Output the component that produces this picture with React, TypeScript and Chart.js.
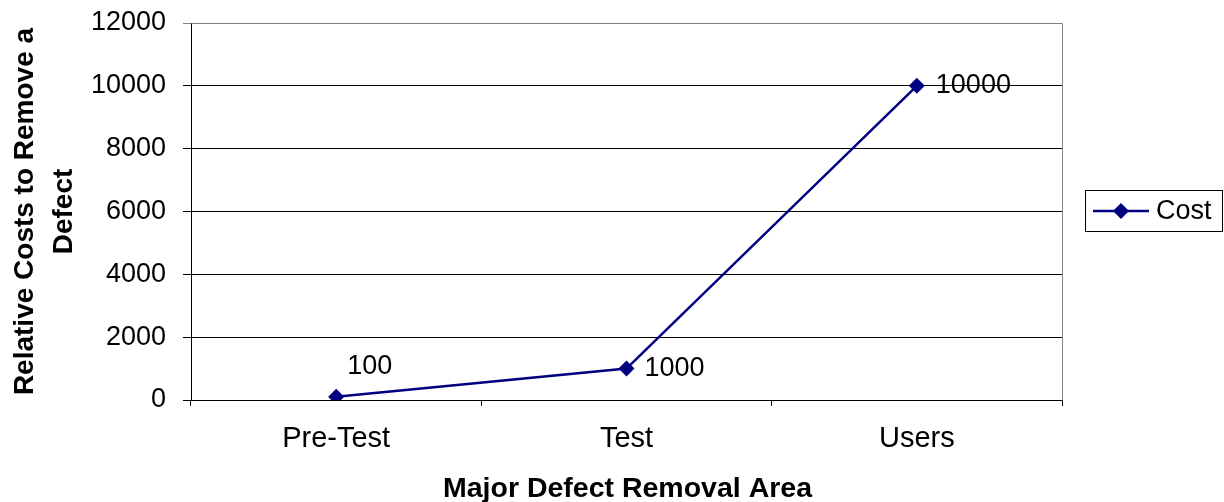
import React, { useEffect, useRef } from "react";
import { Chart, registerables } from "chart.js";

Chart.register(...registerables);

const categories = ["Pre-Test", "Test", "Users"];
const costValues = [100, 1000, 10000];
const seriesName = "Cost";
const yTitleLines = ["Relative Costs to Remove a", "Defect"];
const xTitle = "Major Defect Removal Area";
const yMin = 0;
const yMax = 12000;
const yStep = 2000;

const NAVY = "#000080";
const FONT = "'Liberation Sans', Arial, sans-serif";

export default function App() {
  const ref = useRef<HTMLCanvasElement | null>(null);

  useEffect(() => {
    document.body.style.margin = "0";
    const canvas = ref.current;
    if (!canvas) return;

    const labelOffsets = [
      { dx: 11, dy: -30 },
      { dx: 18, dy: 0 },
      { dx: 19, dy: 0 },
    ];

    const decor = {
      id: "decor",
      afterDatasetsDraw(chart: any) {
        const ctx = chart.ctx as CanvasRenderingContext2D;
        const area = chart.chartArea;
        ctx.save();
        ctx.strokeStyle = "#808080";
        ctx.lineWidth = 1;
        ctx.beginPath();
        ctx.moveTo(Math.round(area.left) + 0.5, Math.round(area.top) + 0.5);
        ctx.lineTo(Math.round(area.right) + 0.5, Math.round(area.top) + 0.5);
        ctx.lineTo(Math.round(area.right) + 0.5, Math.round(area.bottom) + 0.5);
        ctx.stroke();
        ctx.restore();

        const meta = chart.getDatasetMeta(0);
        ctx.save();
        ctx.font = `27px ${FONT}`;
        ctx.fillStyle = "#000";
        ctx.textAlign = "left";
        ctx.textBaseline = "middle";
        meta.data.forEach((pt: any, i: number) => {
          const o = labelOffsets[i] || { dx: 18, dy: 0 };
          ctx.fillText(String(costValues[i]), pt.x + o.dx, pt.y + o.dy);
        });
        ctx.restore();

        ctx.save();
        ctx.fillStyle = "#000";
        ctx.font = `bold 28.5px ${FONT}`;
        ctx.textAlign = "center";
        ctx.textBaseline = "alphabetic";
        ctx.fillText(xTitle, (area.left + area.right) / 2 + 1, 497);
        ctx.font = `bold 28px ${FONT}`;
        const cy = (area.top + area.bottom) / 2;
        ctx.translate(0, cy);
        ctx.rotate(-Math.PI / 2);
        ctx.fillText(yTitleLines[0], 0, 33);
        ctx.fillText(yTitleLines[1], 0, 72);
        ctx.restore();

        ctx.save();
        ctx.strokeStyle = "#000";
        ctx.lineWidth = 1;
        ctx.strokeRect(1085.5, 190.5, 137, 41);
        ctx.strokeStyle = NAVY;
        ctx.lineWidth = 2.5;
        ctx.beginPath();
        ctx.moveTo(1093, 211);
        ctx.lineTo(1149, 211);
        ctx.stroke();
        ctx.fillStyle = NAVY;
        ctx.beginPath();
        ctx.moveTo(1121, 203);
        ctx.lineTo(1129, 211);
        ctx.lineTo(1121, 219);
        ctx.lineTo(1113, 211);
        ctx.closePath();
        ctx.fill();
        ctx.fillStyle = "#000";
        ctx.font = `27px ${FONT}`;
        ctx.textAlign = "left";
        ctx.textBaseline = "middle";
        ctx.fillText(seriesName, 1156, 212);
        ctx.restore();
      },
    };

    const chart = new Chart(canvas, {
      type: "line",
      data: {
        labels: categories,
        datasets: [
          {
            label: seriesName,
            data: costValues,
            borderColor: NAVY,
            backgroundColor: NAVY,
            borderWidth: 2.5,
            pointStyle: "rectRot",
            pointRadius: 8,
            pointBackgroundColor: NAVY,
            pointBorderColor: NAVY,
            pointBorderWidth: 0,
            tension: 0,
            fill: false,
          },
        ],
      },
      options: {
        animation: false,
        responsive: false,
        maintainAspectRatio: false,
        events: [],
        layout: { padding: { top: 23, right: 162, left: 0, bottom: 0 } },
        plugins: {
          legend: { display: false },
          tooltip: { enabled: false },
          title: { display: false },
        },
        scales: {
          x: {
            type: "category",
            offset: true,
            grid: {
              offset: true,
              drawOnChartArea: false,
              drawTicks: true,
              tickLength: 6,
              color: "#000",
              lineWidth: 1,
            },
            border: { display: true, color: "#000", width: 1 },
            ticks: {
              color: "#000",
              font: { family: FONT, size: 29 },
              padding: 16,
              maxRotation: 0,
            },
            afterFit(scale: any) {
              scale.height = 102;
              scale.paddingLeft = 0;
              scale.paddingRight = 0;
            },
          },
          y: {
            min: yMin,
            max: yMax,
            grid: {
              color: (c: any) => (c.tick && c.tick.value === yMax ? "#808080" : "#000"),
              lineWidth: 1,
              tickLength: 8,
              drawTicks: true,
            },
            border: { display: true, color: "#000", width: 1 },
            ticks: {
              stepSize: yStep,
              color: "#000",
              font: { family: FONT, size: 27 },
              padding: 17,
              callback: (v: any) => String(v),
            },
            afterFit(scale: any) {
              scale.width = 191;
              scale.paddingTop = 0;
              scale.paddingBottom = 0;
            },
          },
        },
      },
      plugins: [decor],
    });

    return () => {
      chart.destroy();
    };
  }, []);

  return (
    <div style={{ width: 1224, height: 502 }}>
      <canvas ref={ref} width={1224} height={502} style={{ display: "block", width: 1224, height: 502 }} />
    </div>
  );
}
